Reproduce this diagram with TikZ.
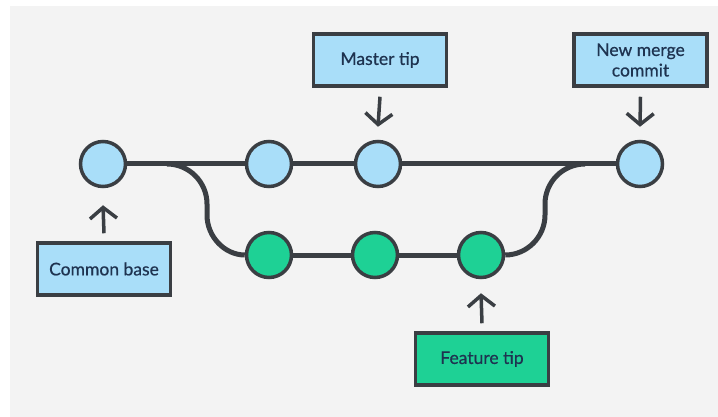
\documentclass[tikz,border=0pt]{standalone}
\usepackage{fontspec}
\setmainfont{Lato}
\newfontfamily\labelfont{Lato}[FakeBold=0.6]
\usetikzlibrary{arrows.meta}
\definecolor{bg}{HTML}{F3F3F3}
\definecolor{ink}{HTML}{3A3E43}
\definecolor{lblue}{HTML}{A9DEF9}
\definecolor{lgreen}{HTML}{1ED195}
\definecolor{txt}{HTML}{1E3350}
\tikzset{
  commit/.style={circle, draw=ink, line width=3.5pt, minimum size=45pt, inner sep=0pt},
  bluec/.style={commit, fill=lblue},
  greenc/.style={commit, fill=lgreen},
  label/.style={rectangle, draw=ink, fill=lblue, line width=3.5pt, minimum width=133pt, minimum height=52pt,
    inner sep=0pt, font=\labelfont\fontsize{17.5}{20.5}\selectfont, text=txt, align=center},
  edge/.style={draw=ink, line width=5pt},
  pointer/.style={draw=ink, line width=3.5pt, -{Straight Barb[length=11pt,width=27pt,line width=3.5pt]}}
}
\begin{document}
\begin{tikzpicture}[x=1pt,y=-1pt]
\useasboundingbox (0,0) rectangle (718,417);
\fill[white] (0,0) rectangle (718,417);
\fill[bg] (10,6) rectangle (718,417);
% commits
\node[bluec] (c1) at (103,164) {};
\node[bluec] (c2) at (269,164) {};
\node[bluec] (c3) at (378,164) {};
\node[bluec] (m) at (640,164) {};
\node[greenc] (g1) at (269,255) {};
\node[greenc] (g2) at (375,255) {};
\node[greenc] (g3) at (481,255) {};
% branch points
\coordinate (bl) at (167,164);
\coordinate (br) at (585,164);
% edges
\draw[edge] (c1) -- (c2);
\draw[edge] (c2) -- (c3);
\draw[edge] (c3) -- (m);
\draw[edge] (g1) -- (g2);
\draw[edge] (g2) -- (g3);
\draw[edge] (bl) .. controls (189,164) and (207,182) .. (207,204) -- (207,215)
  .. controls (207,237) and (225,255) .. (g1.west);
\draw[edge] (g3.east) .. controls (527,255) and (545,237) .. (545,215) -- (545,204)
  .. controls (545,182) and (563,164) .. (br);
% labels
\node[label] (mt) at (380,60) {Master tip};
\node[label] (nm) at (640.5,60) {New merge\\commit};
\node[label] (cb) at (104,269) {Common base};
\node[label, fill=lgreen] (ft) at (482,359) {Feature tip};
% pointers
\draw[pointer] ([yshift=-9pt]mt.south) -- ([yshift=13pt]c3.north);
\draw[pointer] ([yshift=-9pt]nm.south) -- ([yshift=13pt]m.north);
\draw[pointer] ([yshift=8pt]cb.north) -- ([yshift=-17pt]c1.south);
\draw[pointer] ([yshift=8pt]ft.north) -- ([yshift=-14pt]g3.south);
\end{tikzpicture}
\end{document}
